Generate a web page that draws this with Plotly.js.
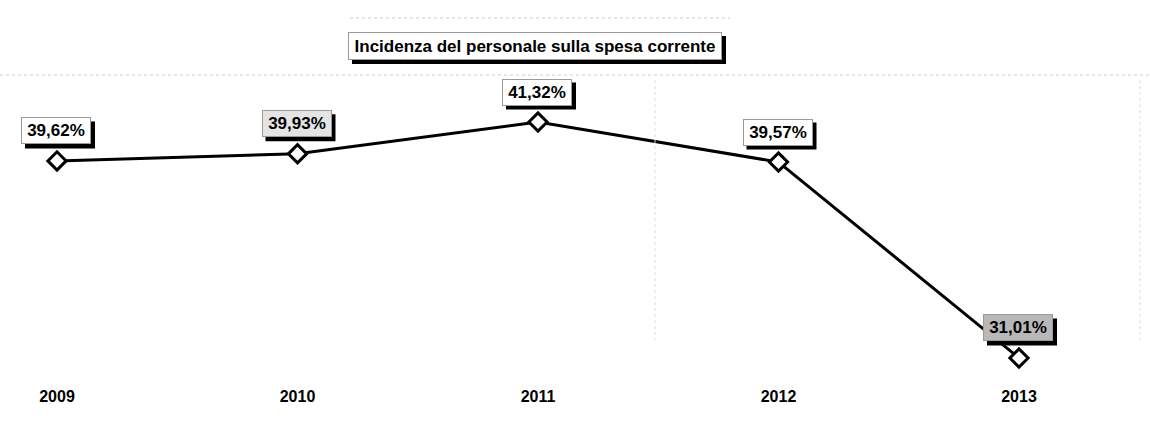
<!DOCTYPE html>
<html>
<head>
<meta charset="utf-8">
<script src="https://cdn.plot.ly/plotly-3.0.1.min.js"></script>
<style>html,body{margin:0;padding:0;background:#fff;}#chart{width:1150px;height:435px;}</style>
</head>
<body>
<div id="chart"></div>
<script>
const years = ['2009', '2010', '2011', '2012', '2013'];
const values = [39.62, 39.93, 41.32, 39.57, 31.01];
const labelBg = ['#ffffff', '#e4e4e4', '#ffffff', '#ffffff', '#b8b8b8'];
const chartTitle = 'Incidenza del personale sulla spesa corrente';

const fmt = v => v.toFixed(2).replace('.', ',') + '%';
const FONT = 'Liberation Sans, Arial, Helvetica, sans-serif';

const annotations = [];
const shapes = [];
const LW = 70, LH = 27, LSHIFT = 30, SH = 4;
years.forEach((yr, i) => {
  // shadow behind label box
  shapes.push({type: 'rect', layer: 'above', xref: 'x', yref: 'y',
    xsizemode: 'pixel', ysizemode: 'pixel', xanchor: i, yanchor: values[i],
    x0: -1 - LW / 2 + SH, x1: -1 + LW / 2 + SH,
    y0: LSHIFT - LH / 2 - SH, y1: LSHIFT + LH / 2 - SH,
    fillcolor: '#000', line: {width: 0}});
  annotations.push({x: i, y: values[i], xref: 'x', yref: 'y', showarrow: false,
    xanchor: 'center', yanchor: 'middle', xshift: -1, yshift: LSHIFT,
    width: LW - 6, height: LH - 6, borderpad: 2,
    text: '<b>' + fmt(values[i]) + '</b>', font: {family: FONT, size: 17, color: '#000'},
    bgcolor: labelBg[i], bordercolor: '#9a9a9a', borderwidth: 1});
});
// title box with shadow
const TX = 535 / 1150, TY = 1 - 46 / 385, TW = 374, TH = 28;
shapes.push({type: 'rect', layer: 'above', xref: 'paper', yref: 'paper',
  xsizemode: 'pixel', ysizemode: 'pixel', xanchor: TX, yanchor: TY,
  x0: -TW / 2 + SH, x1: TW / 2 + SH, y0: -TH / 2 - SH, y1: TH / 2 - SH,
  fillcolor: '#000', line: {width: 0}});
annotations.push({xref: 'paper', yref: 'paper', x: TX, y: TY, showarrow: false,
  xanchor: 'center', yanchor: 'middle', width: TW - 6, height: TH - 6, borderpad: 2,
  text: '<b>' + chartTitle + '</b>', font: {family: FONT, size: 17, color: '#000'},
  bgcolor: '#fff', bordercolor: '#9a9a9a', borderwidth: 1});

// faint dotted scan guides
shapes.push(
  {type: 'line', xref: 'paper', yref: 'paper', x0: 0, x1: 1, y0: 1 - 75 / 385, y1: 1 - 75 / 385,
    line: {color: '#cccccc', width: 1, dash: 'dot'}},
  {type: 'line', xref: 'paper', yref: 'paper', x0: 350 / 1150, x1: 730 / 1150, y0: 1 - 18 / 385, y1: 1 - 18 / 385,
    line: {color: '#cccccc', width: 1, dash: 'dot'}},
  {type: 'line', xref: 'paper', yref: 'paper', x0: 655 / 1150, x1: 655 / 1150, y0: 1 - 80 / 385, y1: 1 - 340 / 385,
    line: {color: '#dddddd', width: 1, dash: 'dot'}},
  {type: 'line', xref: 'paper', yref: 'paper', x0: 1140 / 1150, x1: 1140 / 1150, y0: 1 - 80 / 385, y1: 1 - 340 / 385,
    line: {color: '#dddddd', width: 1, dash: 'dot'}}
);

const trace = {
  x: years.map((_, i) => i),
  y: values,
  type: 'scatter',
  mode: 'lines+markers',
  line: {color: '#000', width: 3},
  marker: {symbol: 'diamond', size: 14, color: '#fff', line: {color: '#000', width: 3}},
  hoverinfo: 'skip'
};

const layout = {
  width: 1150, height: 435,
  margin: {l: 0, r: 0, t: 0, b: 50},
  paper_bgcolor: '#fff', plot_bgcolor: '#fff',
  showlegend: false,
  xaxis: {
    range: [-57 / 240.5, 4 + 131 / 240.5],
    tickmode: 'array', tickvals: years.map((_, i) => i), ticktext: years.map(y => '<b>' + y + '</b>'),
    tickfont: {family: FONT, size: 16, color: '#000'},
    showgrid: false, zeroline: false, showline: false, ticks: ''
  },
  yaxis: {
    range: [29.83, 46.65],
    showgrid: false, zeroline: false, showline: false, showticklabels: false, ticks: ''
  },
  shapes: shapes,
  annotations: annotations
};

Plotly.newPlot('chart', [trace], layout, {staticPlot: true, displayModeBar: false});
</script>
</body>
</html>
